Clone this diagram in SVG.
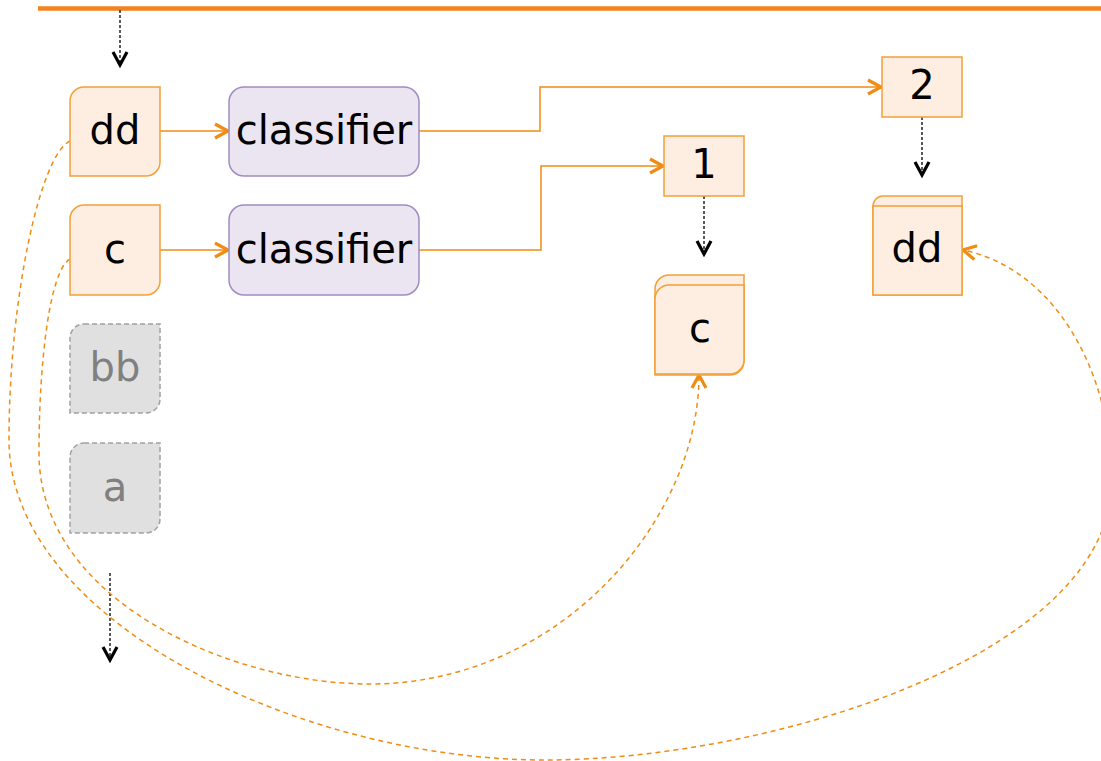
<svg xmlns="http://www.w3.org/2000/svg" width="1101" height="761" viewBox="0 0 1101 761">
  <style>
    .lbl { font-family: "DejaVu Sans", "Liberation Sans", sans-serif; font-size: 40px; text-anchor: middle; fill: #000; }
    .lbl-dim { fill: #808080; }
    .proc { fill: #fdeee1; stroke: #f2a038; stroke-width: 1.5; }
    .proc-off { fill: #e0e0e0; stroke: #a0a0a0; stroke-width: 1.5; stroke-dasharray: 5 3; }
    .clf { fill: #ebe5f1; stroke: #a08cc0; stroke-width: 1.5; }
    .flow { fill: none; stroke: #f08c14; stroke-width: 1.5; }
    .link { fill: none; stroke: #f08c14; stroke-width: 1.5; stroke-dasharray: 5 4; }
    .seq { fill: none; stroke: #222; stroke-width: 1.5; stroke-dasharray: 3 2; }
  </style>
  <defs>
    <marker id="arrow-orange" viewBox="-3 -3 19 20" refX="13" refY="7" markerWidth="19" markerHeight="20" markerUnits="userSpaceOnUse" orient="auto">
      <path d="M0,0 L13,7 L0,14" fill="none" stroke="#f08c14" stroke-width="3.2"/>
    </marker>
    <marker id="arrow-black" viewBox="-3 -3 19 20" refX="13" refY="7" markerWidth="19" markerHeight="20" markerUnits="userSpaceOnUse" orient="auto">
      <path d="M0,0 L13,7 L0,14" fill="none" stroke="#000" stroke-width="3.2"/>
    </marker>
  </defs>

  <!-- top rail -->
  <line x1="38" y1="8.5" x2="1101" y2="8.5" stroke="#f5821f" stroke-width="4.5"/>

  <g id="connectors">
    <line class="seq" x1="120" y1="10" x2="120" y2="65" marker-end="url(#arrow-black)"/>
    <line class="seq" x1="922" y1="117" x2="922" y2="175" marker-end="url(#arrow-black)"/>
    <line class="seq" x1="704" y1="196" x2="704" y2="254" marker-end="url(#arrow-black)"/>
    <line class="seq" x1="110" y1="573" x2="110" y2="660" marker-end="url(#arrow-black)"/>

    <line class="flow" x1="160" y1="131" x2="228" y2="131" marker-end="url(#arrow-orange)"/>
    <line class="flow" x1="160" y1="250" x2="228" y2="250" marker-end="url(#arrow-orange)"/>
    <polyline class="flow" points="419,131 540,131 540,87 881,87" marker-end="url(#arrow-orange)"/>
    <polyline class="flow" points="419,250 541,250 541,166 663,166" marker-end="url(#arrow-orange)"/>

    <path class="link" d="M70,141 C40,155 9,300 9,440 C9,620 300,760 545,760 C770,760 1112,655 1112,480 C1112,380 1060,270 963,250" marker-end="url(#arrow-orange)"/>
    <path class="link" d="M70,259 C50,270 39,360 39,453 C39,600 230,684 370,684 C560,684 699,520 699,375" marker-end="url(#arrow-orange)"/>
  </g>

  <g id="node-dd">
    <path class="proc" d="M84,87 H160 V162 A14,14 0 0 1 146,176 H70 V101 A14,14 0 0 1 84,87 Z"/>
    <text class="lbl" x="115" y="144">dd</text>
  </g>
  <g id="node-c">
    <path class="proc" d="M84,205 H160 V281 A14,14 0 0 1 146,295 H70 V219 A14,14 0 0 1 84,205 Z"/>
    <text class="lbl" x="115" y="263">c</text>
  </g>
  <g id="node-bb">
    <path class="proc-off" d="M84,324 H160 V399 A14,14 0 0 1 146,413 H70 V338 A14,14 0 0 1 84,324 Z"/>
    <text class="lbl lbl-dim" x="115" y="381">bb</text>
  </g>
  <g id="node-a">
    <path class="proc-off" d="M84,443 H160 V519 A14,14 0 0 1 146,533 H70 V457 A14,14 0 0 1 84,443 Z"/>
    <text class="lbl lbl-dim" x="115" y="501">a</text>
  </g>

  <g id="classifier-1">
    <rect class="clf" x="229" y="87" width="190" height="89" rx="15" ry="15"/>
    <text class="lbl" x="324" y="144">classifier</text>
  </g>
  <g id="classifier-2">
    <rect class="clf" x="229" y="205" width="190" height="90" rx="15" ry="15"/>
    <text class="lbl" x="324" y="263">classifier</text>
  </g>

  <g id="node-2">
    <rect class="proc" x="882" y="57" width="80" height="60"/>
    <text class="lbl" x="922" y="99">2</text>
  </g>
  <g id="node-1">
    <rect class="proc" x="664" y="136" width="80" height="60"/>
    <text class="lbl" x="704" y="178">1</text>
  </g>

  <g id="store-c">
    <path class="proc" d="M669,275 H744 V361 A14,14 0 0 1 730,375 H655 V289 A14,14 0 0 1 669,275 Z"/>
    <path class="proc" d="M669,285 H744 V360 A14,14 0 0 1 730,374 H655 V299 A14,14 0 0 1 669,285 Z"/>
    <text class="lbl" x="700" y="342">c</text>
  </g>
  <g id="store-dd">
    <path class="proc" d="M883,196 H962 V295 H873 V206 A10,10 0 0 1 883,196 Z"/>
    <rect class="proc" x="873" y="206" width="89" height="89"/>
    <text class="lbl" x="917" y="262">dd</text>
  </g>
</svg>
